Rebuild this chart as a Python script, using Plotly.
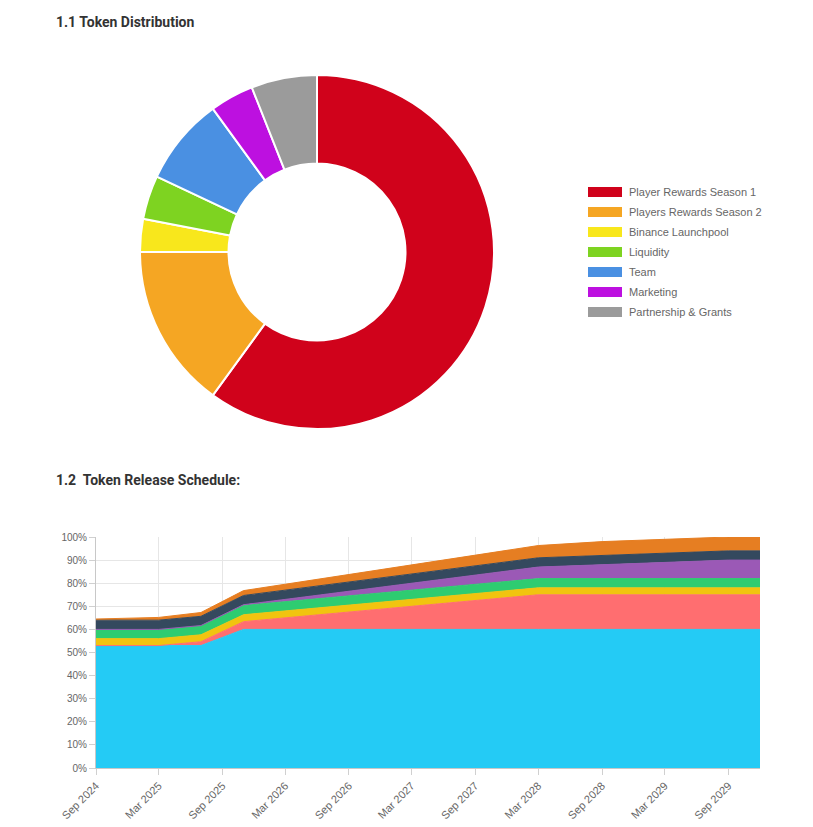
import plotly.graph_objects as go

W, H = 813, 827

# ---------- 1.1 Token Distribution ----------
dist_labels = ["Player Rewards Season 1", "Players Rewards Season 2", "Binance Launchpool",
               "Liquidity", "Team", "Marketing", "Partnership & Grants"]
dist_values = [60, 15, 3, 4, 8, 4, 6]
dist_colors = ["#D0021B", "#F5A623", "#F8E71C", "#7ED321", "#4A90E2", "#BD10E0", "#9B9B9B"]

# ---------- 1.2 Token Release Schedule (cumulative % unlocked) ----------
rel_names = ["Player Rewards Season 1", "Players Rewards Season 2", "Binance Launchpool",
             "Liquidity", "Team", "Marketing", "Partnership & Grants"]
rel_colors = ["#24CBF5", "#FF6E70", "#F1C40F", "#2ECC71", "#9B59B6", "#34495E", "#E67E22"]
rel_dates = [
    ["2024-09-01", "2025-07-01", "2025-11-01", "2029-12-01"],
    ["2024-09-01", "2025-03-01", "2028-03-01", "2029-12-01"],
    ["2024-09-01", "2029-12-01"],
    ["2024-09-01", "2029-12-01"],
    ["2024-09-01", "2025-09-01", "2029-09-01", "2029-12-01"],
    ["2024-09-01", "2029-12-01"],
    ["2024-09-01", "2028-09-01", "2029-12-01"],
]
rel_values = [
    [53, 53, 60, 60],
    [0, 0, 15, 15],
    [3, 3],
    [4, 4],
    [0, 0, 8, 8],
    [4, 4],
    [0.5, 6, 6],
]
y_ticks = list(range(0, 101, 10))


def px_x(p):
    return p / W


def px_y(p):
    return 1 - p / H


fig = go.Figure()

fig.add_trace(go.Pie(
    labels=dist_labels, values=dist_values, hole=0.5, sort=False,
    direction="clockwise", rotation=0, textinfo="none",
    marker=dict(colors=dist_colors, line=dict(color="white", width=2)),
    domain=dict(x=[px_x(140), px_x(494)], y=[px_y(429), px_y(75)]),
    showlegend=False,
))

for i, (name, col) in enumerate(zip(rel_names, rel_colors)):
    fig.add_trace(go.Scatter(
        x=rel_dates[i], y=rel_values[i], name=name, mode="lines",
        stackgroup="rel", stackgaps="interpolate",
        line=dict(color=col, width=1), fillcolor=col,
        showlegend=False,
    ))

grid = "#e6e6e6"
fig.update_layout(
    width=W, height=H, margin=dict(l=0, r=0, t=0, b=0, autoexpand=False),
    paper_bgcolor="white", plot_bgcolor="white",
    font=dict(family="Liberation Sans, Arial, sans-serif", color="#666", size=10),
    xaxis=dict(
        domain=[px_x(96), px_x(760)], type="date", automargin=False,
        range=["2024-09-01", "2029-12-01"],
        tick0="2024-09-01", dtick="M6", tickformat="%b %Y", tickangle=-45,
        showgrid=True, gridcolor=grid, linecolor="#c8c8c8", showline=True,
        ticks="outside", ticklen=6, tickcolor="#d0d0d0",
        tickfont=dict(size=11, color="#666"), zeroline=False,
    ),
    yaxis=dict(
        domain=[px_y(768), px_y(537)], range=[0, 100], automargin=False,
        tickvals=y_ticks, ticktext=[f"{v}%" for v in y_ticks],
        showgrid=True, gridcolor=grid, linecolor="#c8c8c8", showline=True,
        ticks="outside", ticklen=6, tickcolor="#d0d0d0",
        tickfont=dict(size=10, color="#666"), zeroline=False,
    ),
)

title_font = dict(family="Roboto, Arial, sans-serif", size=14, color="#333")
fig.add_annotation(text="<b>1.1 Token Distribution</b>", x=px_x(54), y=px_y(22),
                   xref="paper", yref="paper", xanchor="left", yanchor="middle",
                   showarrow=False, font=title_font)
fig.add_annotation(text="<b>1.2\u00a0 Token Release Schedule:</b>", x=px_x(54), y=px_y(480),
                   xref="paper", yref="paper", xanchor="left", yanchor="middle",
                   showarrow=False, font=title_font)

# legend for the donut (wide swatches)
for i, (lab, col) in enumerate(zip(dist_labels, dist_colors)):
    cy = 192 + 20 * i
    fig.add_shape(type="rect", xref="paper", yref="paper",
                  x0=px_x(588), x1=px_x(622), y0=px_y(cy + 5), y1=px_y(cy - 5),
                  fillcolor=col, line=dict(width=0))
    fig.add_annotation(text=lab, x=px_x(627), y=px_y(cy), xref="paper", yref="paper",
                       xanchor="left", yanchor="middle", showarrow=False,
                       font=dict(family="Liberation Sans, Arial, sans-serif", size=11, color="#666"))

fig.write_html("out.html", config={"displayModeBar": False},
               post_script="document.body.style.margin='0';")
